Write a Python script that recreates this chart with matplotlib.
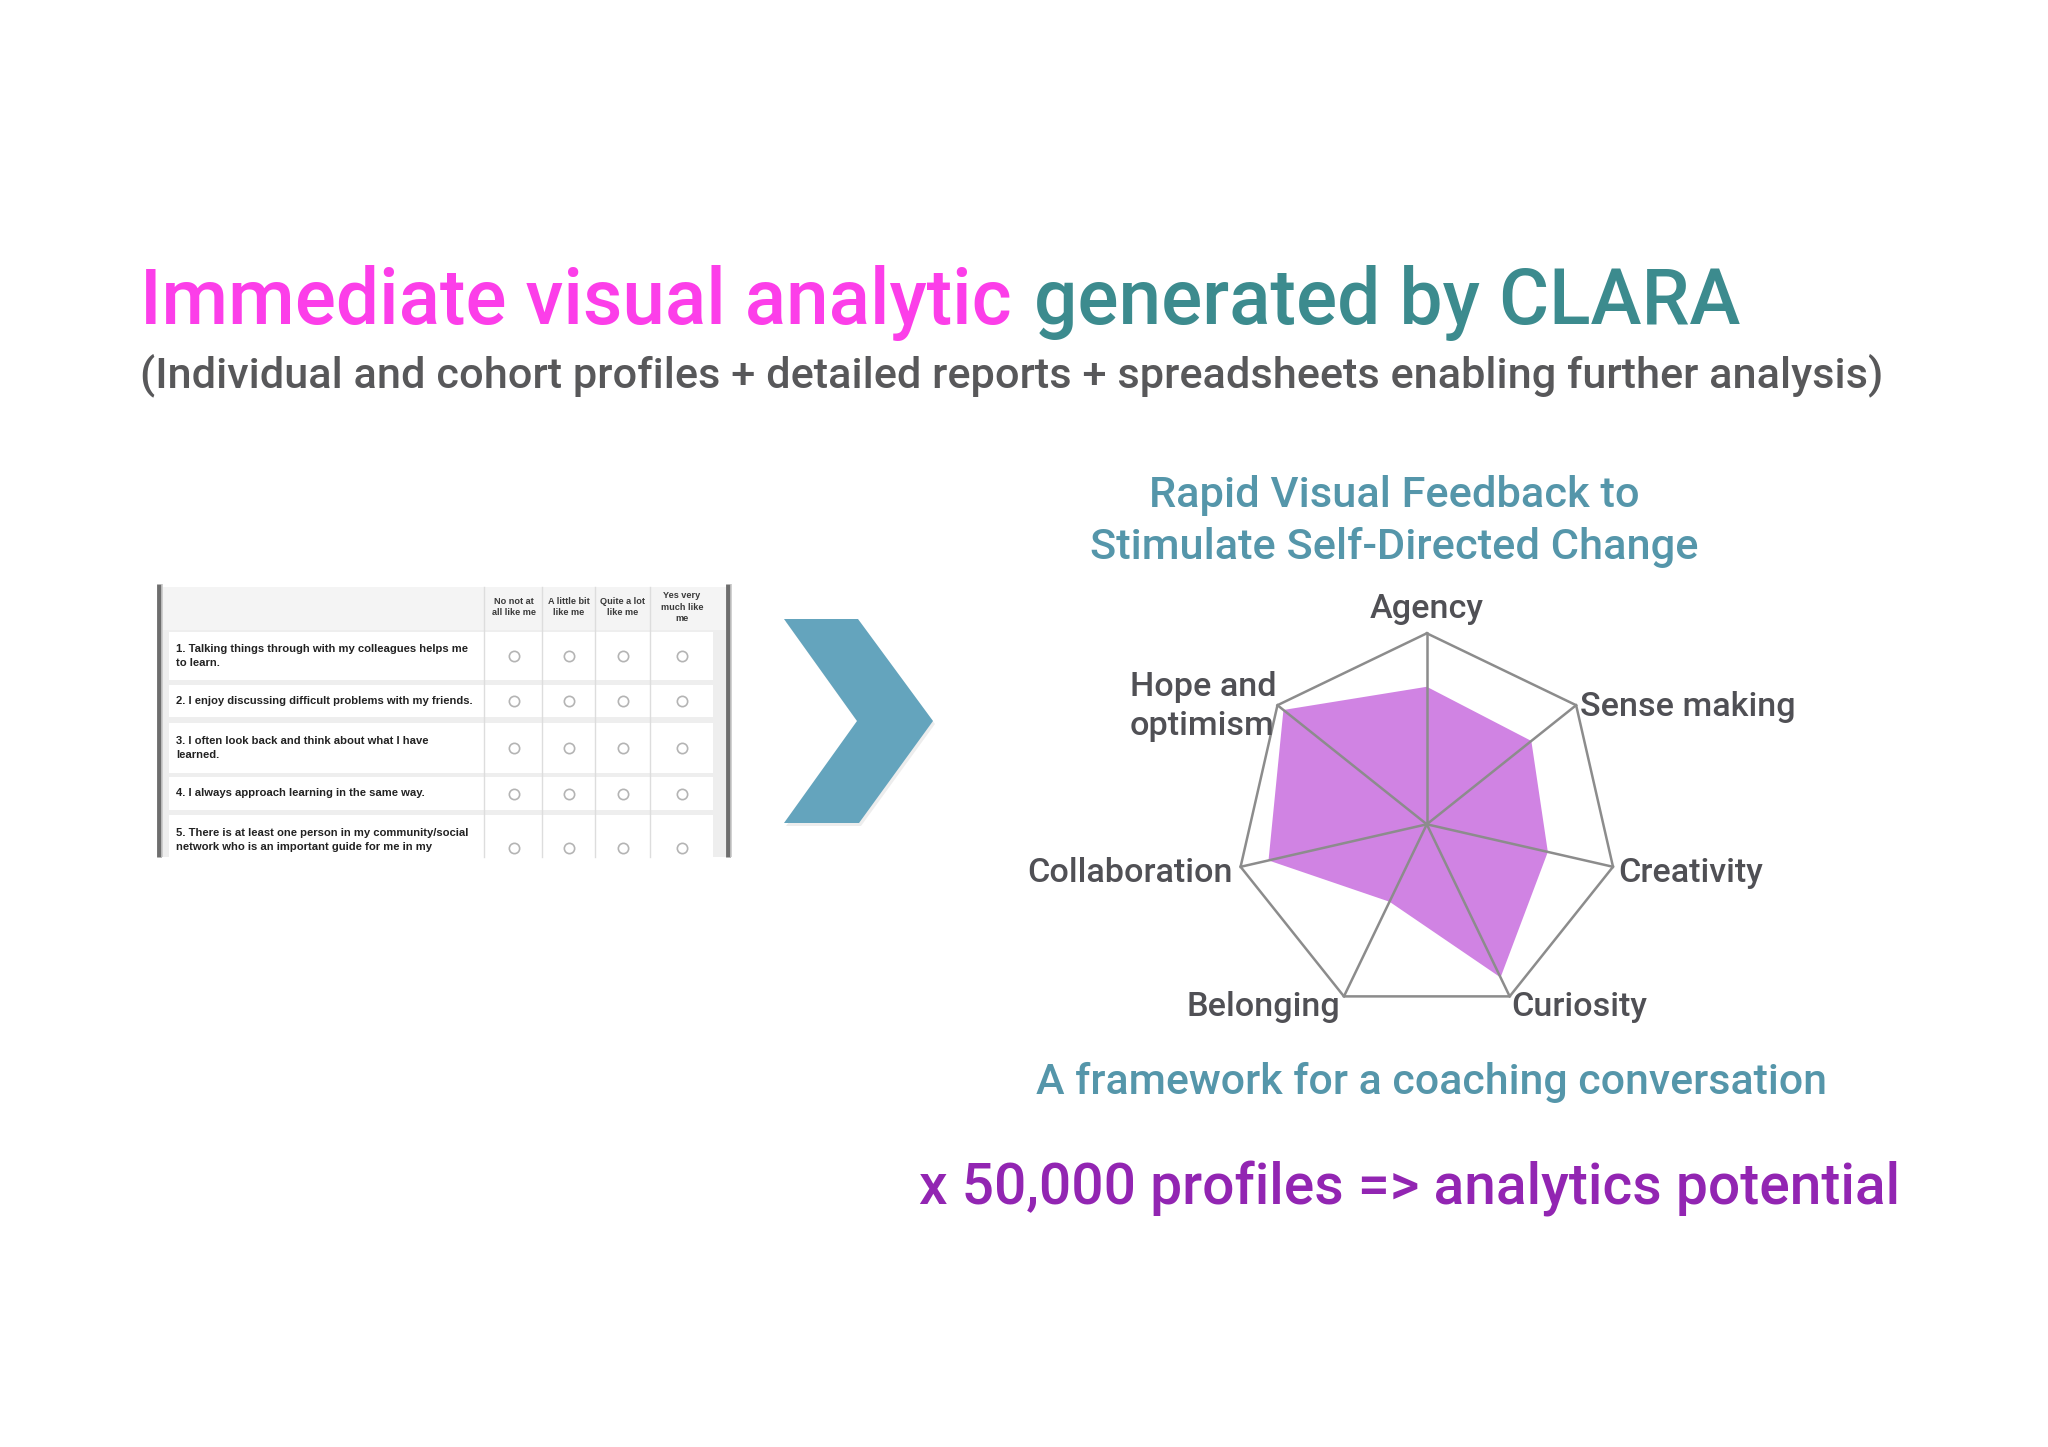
#CLARA slide: survey snippet -> radar profile
#Author: recreated
#python plot.py

import numpy as np
import matplotlib
matplotlib.use('Agg')
import matplotlib.pyplot as plt
from matplotlib.patches import Polygon, Rectangle

#Radar profile (fraction of the outer ring)
dims = ['Agency', 'Sense making', 'Creativity', 'Curiosity',
        'Belonging', 'Collaboration', 'Hope and\noptimism']
scores = [0.72, 0.70, 0.65, 0.89, 0.45, 0.85, 0.96]

#Survey snippet on the left
questions = ['1. Talking things through with my colleagues helps me\nto learn.',
             '2. I enjoy discussing difficult problems with my friends.',
             '3. I often look back and think about what I have\nlearned.',
             '4. I always approach learning in the same way.',
             '5. There is at least one person in my community/social\nnetwork who is an important guide for me in my']
answers = ['No not at\nall like me', 'A little bit\nlike me',
           'Quite a lot\nlike me', 'Yes very\nmuch like\nme']

#Slide text
title_a = 'Immediate visual analytic'
title_b = 'generated by CLARA'
subtitle = '(Individual and cohort profiles + detailed reports + spreadsheets enabling further analysis)'
head1 = 'Rapid Visual Feedback to'
head2 = 'Stimulate Self-Directed Change'
foot1 = 'A framework for a coaching conversation'
foot2 = 'x 50,000 profiles => analytics potential'

W, H = 2048, 1447
FONT = 'Roboto'
WT = 'medium'

fig = plt.figure(figsize=(W / 100, H / 100), dpi=100)
fig.patch.set_facecolor('white')

#one axes in pixel units for the whole slide
bg = fig.add_axes([0, 0, 1, 1])
bg.set_xlim(0, W)
bg.set_ylim(H, 0)
bg.axis('off')

r = fig.canvas.get_renderer()


def put(ax, x, y, s, width, **kw):
    # scale the font so the text spans the measured width
    t = ax.text(x, y, s, fontsize=20, family=FONT, weight=WT, **kw)
    bb = t.get_window_extent(renderer=r)
    t.set_fontsize(20 * width / bb.width)
    return t


put(bg, 140, 324, title_a, 872, color='#fc3ee9', va='baseline')
put(bg, 1034, 324, title_b, 706, color='#3c8b8e', va='baseline')
put(bg, 140, 387, subtitle, 1743, color='#58585a', va='baseline')

t2 = put(bg, 1394, 559, head2, 607, color='#5596aa', va='baseline', ha='center')
bg.text(1394, 507, head1, fontsize=t2.get_fontsize(), family=FONT, weight=WT,
        color='#5596aa', va='baseline', ha='center')

put(bg, 1432, 1094, foot1, 792, color='#5596aa', va='baseline', ha='center')
put(bg, 1410, 1204, foot2, 982, color='#9225b2', va='baseline', ha='center')

#--- survey table (screenshot look) ---
tx0, tx1, ty0, ty1 = 162, 726, 587, 857
bg.add_patch(Rectangle((tx0, ty0), tx1 - tx0, ty1 - ty0, facecolor='#eeeeee', edgecolor='none'))
bg.add_patch(Rectangle((tx0, ty0), tx1 - tx0, 43, facecolor='#f4f4f4', edgecolor='none'))
row_top = [632, 685, 723, 777, 815]
row_bot = [680, 717, 773, 810, 857]
for i in range(len(questions)):
    bg.add_patch(Rectangle((169, row_top[i]), 544, row_bot[i] - row_top[i],
                           facecolor='white', edgecolor='none'))
col_sep = [483.5, 542, 594.5, 650]
for x in col_sep:
    bg.plot([x, x], [ty0, ty1], color='#dddddd', lw=1)
#dark side borders
for x in [159, 728]:
    bg.plot([x, x], [ty0 - 3, ty1], color='#6e6e6e', lw=3.5, solid_capstyle='butt')
    bg.plot([x + 3, x + 3], [ty0 - 3, ty1], color='#c8c8c8', lw=1.2, solid_capstyle='butt')

col_x = [514, 569, 623, 682]
for x, a in zip(col_x, answers):
    bg.text(x, 607, a, fontsize=6.6, family='Liberation Sans', weight='bold',
            color='#3a3a3a', ha='center', va='center', linespacing=1.4)

for i, q in enumerate(questions):
    yc = (row_top[i] + row_bot[i]) / 2 if i < 4 else 840
    bg.text(176, yc, q, fontsize=8.1, family='Liberation Sans', weight='bold',
            color='#222222', ha='left', va='center', linespacing=1.45)
    bg.scatter(col_x, [yc + (i == 4) * 8] * 4, s=55, facecolors='white',
               edgecolors='#b4b4b4', linewidths=1.2, zorder=3)

#--- chevron arrow ---
chev = [(784, 619), (858, 619), (933, 721), (859, 823), (784, 823), (857, 721)]
bg.add_patch(Polygon([(x + 2, y + 3) for x, y in chev], closed=True,
                     facecolor='#e2e2e2', edgecolor='none', alpha=0.6))
bg.add_patch(Polygon(chev, closed=True, facecolor='#64a4bd', edgecolor='none'))

#--- radar ---
cx, cy, R = 1426.8, 824.3, 191.0
ext = 1.8
rad = fig.add_axes([(cx - ext * R) / W, 1 - (cy + ext * R) / H, 2 * ext * R / W, 2 * ext * R / H])
rad.set_xlim(-ext, ext)
rad.set_ylim(-ext, ext)
rad.axis('off')

n = len(dims)
ang = np.arange(n) * 2 * np.pi / n  # clockwise from top
sx = np.sin(ang)
sy = np.cos(ang)
vals = np.array(scores)

rad.fill(vals * sx, vals * sy, color='#d083e3', lw=0, zorder=1)
rad.plot(np.append(sx, sx[0]), np.append(sy, sy[0]), color='#8c8c8c', lw=1.8, zorder=2)
for i in range(n):
    rad.plot([0, sx[i]], [0, sy[i]], color='#8c8c8c', lw=1.8, zorder=2)

#label anchors (x, y in radius units) and alignment
lab_xy = [(0, 1.08), (0.80, 0.565), (1.0, -0.30), (0.44, -1.005),
          (-0.455, -1.005), (-1.015, -0.30), (-1.555, 0.47)]
lab_ha = ['center', 'left', 'left', 'left', 'right', 'right', 'left']

ls = put(rad, lab_xy[1][0], lab_xy[1][1], dims[1], 215, color='#505055',
         ha=lab_ha[1], va='baseline')
fs = ls.get_fontsize()
for i in range(n):
    if i == 1:
        continue
    rad.text(lab_xy[i][0], lab_xy[i][1], dims[i], fontsize=fs, family=FONT, weight=WT,
             color='#505055', ha=lab_ha[i], va='baseline', linespacing=1.25)

plt.savefig('out.png', dpi=100, facecolor='white')
